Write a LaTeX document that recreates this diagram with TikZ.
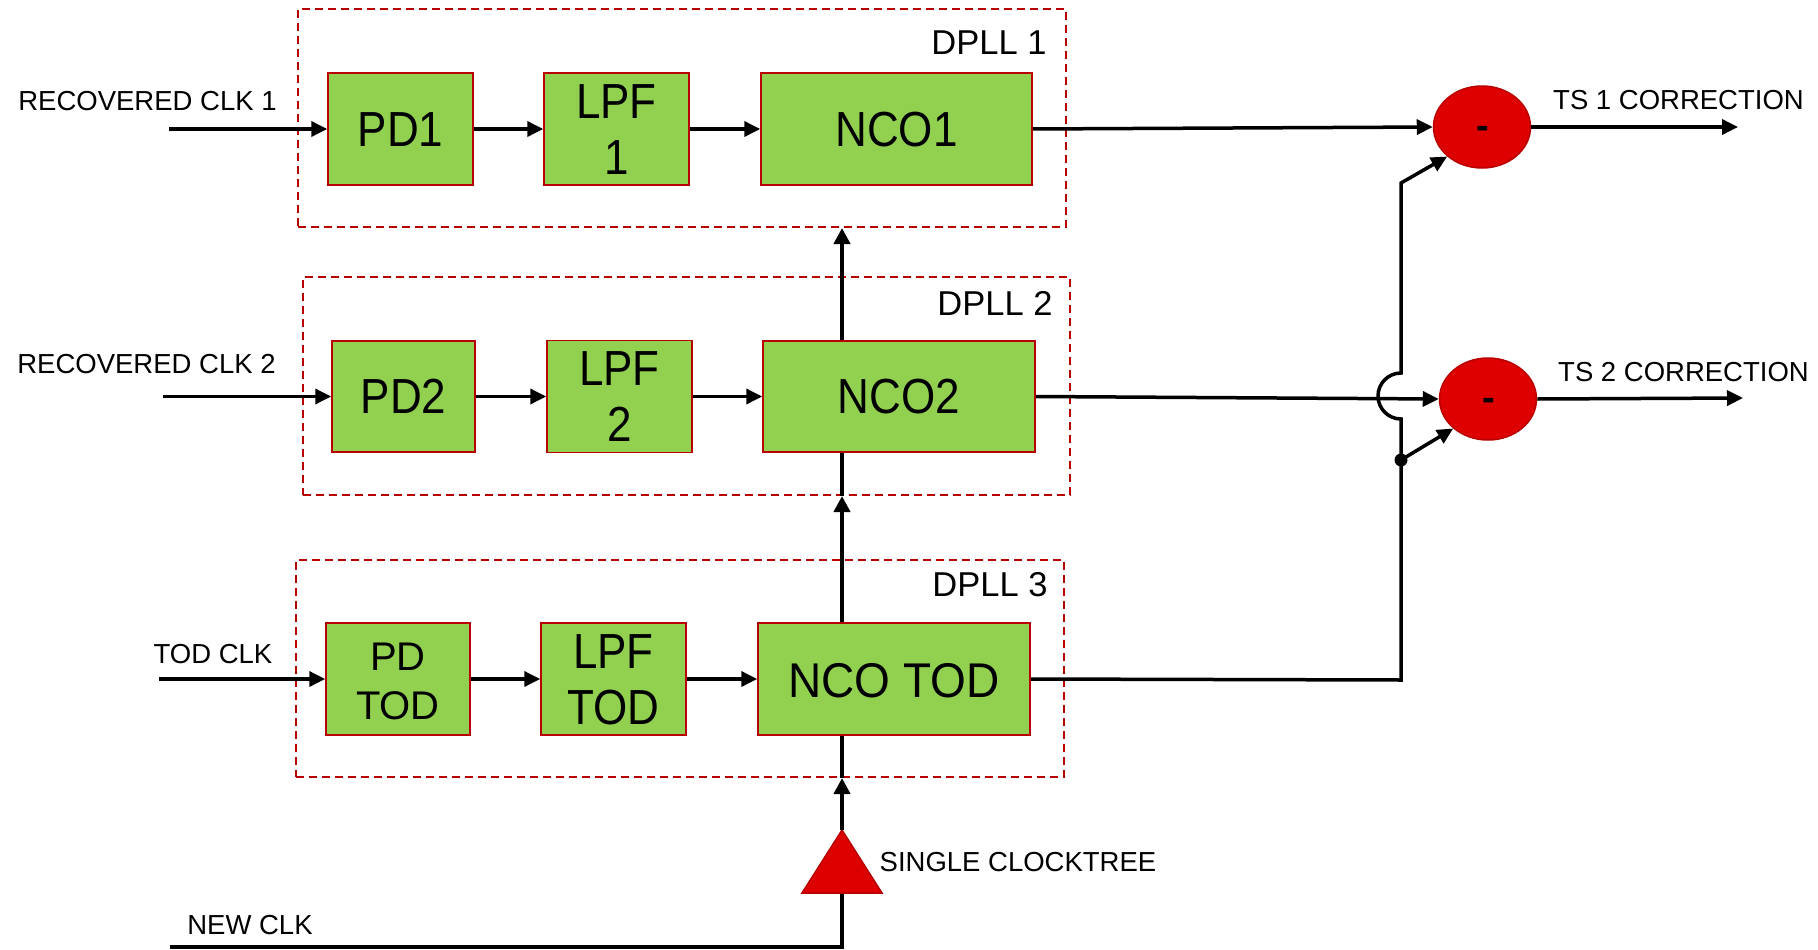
\documentclass[tikz,border=0pt]{standalone}
\usepackage{fontspec}
\setmainfont{Liberation Sans}
\usetikzlibrary{arrows.meta,shapes.geometric}
\definecolor{boxgreen}{HTML}{92D050}
\definecolor{darkred}{HTML}{B80000}
\definecolor{sumred}{HTML}{DE0000}
\newcommand{\blk}[1]{\raisebox{-6pt}[\height][\depth]{\scalebox{1}[1.12]{\begin{tabular}{@{}c@{}}#1\end{tabular}}}}
\newcommand{\blkplain}[1]{\raisebox{-6pt}[\height][\depth]{\begin{tabular}{@{}c@{}}#1\end{tabular}}}
\begin{document}
\begin{tikzpicture}[x=1pt,y=-1pt,
  blockbox/.style={draw=darkred,line width=1.5pt,fill=boxgreen,inner sep=0pt,
    font=\fontsize{44}{50}\selectfont},
  dpllbox/.style={draw=darkred,line width=2pt,dash pattern=on 8pt off 5pt,inner sep=0pt},
  lbl/.style={font=\fontsize{27.5}{30}\selectfont,inner sep=0pt},
  dlbl/.style={font=\fontsize{34.5}{36}\selectfont,inner sep=0pt},
  arr/.style={line width=3.5pt,-{Triangle[length=16pt,width=15pt]}},
  wire/.style={line width=3.5pt},
  clkarr/.style={line width=4.5pt,-{Triangle[length=16pt,width=16pt]}},
  clkwire/.style={line width=4.5pt},
  sumnode/.style={ellipse,draw=darkred,line width=1.5pt,fill=sumred,inner sep=0pt,
    minimum width=97pt,minimum height=82pt},
  minus/.style={font=\fontsize{38}{38}\selectfont\bfseries,inner sep=0pt}]
\useasboundingbox (0,0) rectangle (1818,950);

% DPLL dashed boxes
\node[dpllbox,minimum width=768pt,minimum height=218pt] (dpll1) at (682,118) {};
\node[dpllbox,minimum width=767pt,minimum height=218pt] (dpll2) at (686.5,386) {};
\node[dpllbox,minimum width=768pt,minimum height=217pt] (dpll3) at (680,668.5) {};
\node[dlbl] (t1) at (989,43) {DPLL 1};
\node[dlbl] (t2) at (995,303) {DPLL 2};
\node[dlbl] (t3) at (990,585) {DPLL 3};

% blocks
\node[blockbox,minimum width=145pt,minimum height=112pt] (pd1) at (400.5,129) {\blk{PD1}};
\node[blockbox,minimum width=145pt,minimum height=112pt] (lpf1) at (616.5,129) {\blk{LPF\\1}};
\node[blockbox,minimum width=271pt,minimum height=112pt] (nco1) at (896.5,129) {\blk{NCO1}};
\node[blockbox,minimum width=143pt,minimum height=111pt] (pd2) at (403.5,396.5) {\blk{PD2}};
\node[blockbox,minimum width=145pt,minimum height=111pt] (lpf2) at (619.5,396.5) {\blk{LPF\\2}};
\node[blockbox,minimum width=272pt,minimum height=111pt] (nco2) at (899,396.5) {\blk{NCO2}};
\node[blockbox,minimum width=144pt,minimum height=112pt,font=\fontsize{40}{49}\selectfont] (pdtod) at (398,679) {\blkplain{PD\\TOD}};
\node[blockbox,minimum width=145pt,minimum height=112pt] (lpftod) at (613.5,679) {\blk{LPF\\TOD}};
\node[blockbox,minimum width=272pt,minimum height=112pt,font=\fontsize{46}{50}\selectfont] (ncotod) at (894,679) {\raisebox{-2pt}[\height][\depth]{\scalebox{1}[1.06]{NCO TOD}}};

% input labels and coordinates
\node[lbl] (l1) at (147.5,101) {RECOVERED CLK 1};
\node[lbl] (l2) at (146.5,364) {RECOVERED CLK 2};
\node[lbl] (l3) at (213,654) {TOD CLK};
\node[lbl] (l4) at (250,925) {NEW CLK};
\node[lbl] (l5) at (1018,862) {SINGLE CLOCKTREE};
\coordinate (in1) at (169,129);
\coordinate (in2) at (163,396.5);
\coordinate (in3) at (159,679);

% chain arrows
\draw[arr] (in1) -- (pd1.west);
\draw[arr] (pd1.east) -- (lpf1.west);
\draw[arr] (lpf1.east) -- (nco1.west);
\draw[arr] (in2) -- (pd2.west);
\draw[arr] (pd2.east) -- (lpf2.west);
\draw[arr] (lpf2.east) -- (nco2.west);
\draw[arr] (in3) -- (pdtod.west);
\draw[arr] (pdtod.east) -- (lpftod.west);
\draw[arr] (lpftod.east) -- (ncotod.west);

% clock tree
\coordinate (nc) at (170,947);
\coordinate (ncc) at (842,947);
\coordinate (tb) at (842,893);
\coordinate (apex) at (842,830);
\draw[clkwire] (nc) -- (ncc) -- (tb);
\filldraw[fill=sumred,draw=darkred,line width=1.5pt] (802,893) -- (apex) -- (882,893) -- cycle;
\draw[clkarr] (apex) -- (apex |- dpll3.south);
\draw[clkwire] (apex |- dpll3.south) -- (apex |- ncotod.south);
\draw[clkarr] (apex |- ncotod.north) -- (apex |- dpll2.south);
\draw[clkwire] (apex |- dpll2.south) -- (apex |- nco2.south);
\draw[clkarr] (apex |- nco2.north) -- (apex |- dpll1.south);

% subtractors
\node[sumnode] (e1) at (1482,127) {};
\node[sumnode] (e2) at (1488,399) {};
\node[minus] (m1) at (1483,132) {-};
\node[minus] (m2) at (1489,404) {-};
\node[lbl] (ts1) at (1678.5,100) {TS 1 CORRECTION};
\node[lbl] (ts2) at (1683.5,372) {TS 2 CORRECTION};
\coordinate (o1) at (1738,127);
\coordinate (o2) at (1743,398);
\draw[arr] (nco1.east) -- (e1.west);
\draw[arr] (e1.east) -- (o1);
\draw[arr] (nco2.east) -- (e2.west);
\draw[arr] (e2.east) -- (o2);

% TOD feed with hop
\coordinate (tj) at (1401,680);
\coordinate (hb) at (1401,419);
\coordinate (tk) at (1401,183);
\coordinate (dot) at (1401,460);
\draw[arr] (ncotod.east) -- (tj) -- (hb) arc[start angle=90,end angle=270,radius=23] -- (tk) -- (e1.south west);
\draw[arr] (dot) -- (e2.south west);
\fill (dot) circle (6.5);
\end{tikzpicture}
\end{document}
